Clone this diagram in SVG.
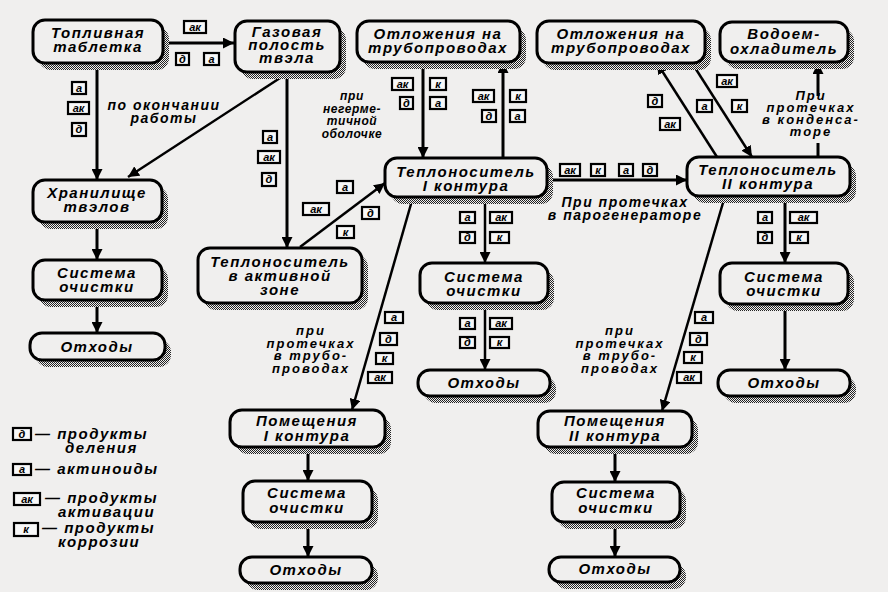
<svg xmlns="http://www.w3.org/2000/svg" width="888" height="592" viewBox="0 0 888 592">
<defs>
<pattern id="dot" width="2" height="2" patternUnits="userSpaceOnUse"><rect width="2" height="2" fill="#f0efee"/><rect width="1" height="1" fill="#222"/><rect x="1" y="1" width="1" height="1" fill="#222"/></pattern>
<marker id="ar" viewBox="0 0 10 10" refX="10" refY="5" markerWidth="11" markerHeight="11" markerUnits="userSpaceOnUse" orient="auto"><path d="M0,0 L10,5 L0,10 z" fill="#000"/></marker>
<style>
.bx{fill:#f0efee;stroke:#000;stroke-width:3}
.sh{fill:url(#dot)}
.t,.a{font-family:"Liberation Sans","DejaVu Sans",sans-serif;font-weight:bold;font-style:italic;text-anchor:middle;fill:#000}
.t{font-size:15px;letter-spacing:1.5px}
.a{font-size:14px;letter-spacing:1.5px}
.sm{font-size:12px;letter-spacing:0.6px}
.k{font-size:13px;letter-spacing:2px}
.lg{font-size:15px;letter-spacing:1.5px;text-anchor:start}
.c line{stroke:#000;stroke-width:3}
.c .d{stroke-width:2.5}
.tg rect{fill:#f8f8f8;stroke:#000;stroke-width:2.2}
.tg text{font-family:"Liberation Sans","DejaVu Sans",sans-serif;font-weight:bold;font-style:italic;font-size:11px;text-anchor:middle;fill:#000}
</style>
</defs>
<rect width="888" height="592" fill="#f0efee"/>

<g id="connectors" class="c">
<line x1="163" y1="43" x2="234" y2="43" marker-end="url(#ar)"/>
<line x1="97" y1="63" x2="97" y2="180" marker-end="url(#ar)"/>
<line class="d" x1="280" y1="78" x2="128" y2="177" marker-end="url(#ar)"/>
<line x1="287" y1="72" x2="287" y2="248" marker-end="url(#ar)"/>
<line class="d" x1="300" y1="247" x2="385" y2="183" marker-end="url(#ar)"/>
<line x1="423" y1="62" x2="423" y2="158" marker-end="url(#ar)"/>
<line x1="503" y1="158" x2="503" y2="62" marker-end="url(#ar)"/>
<line x1="547" y1="180" x2="687" y2="180" marker-end="url(#ar)"/>
<line class="d" x1="717" y1="157" x2="657" y2="63" marker-end="url(#ar)"/>
<line class="d" x1="692" y1="63" x2="752" y2="157" marker-end="url(#ar)"/>
<line x1="818" y1="157" x2="818" y2="143"/>
<line x1="818" y1="96" x2="818" y2="63" marker-end="url(#ar)"/>
<line class="d" x1="485" y1="197" x2="485" y2="263" marker-end="url(#ar)"/>
<line class="d" x1="485" y1="303" x2="485" y2="370" marker-end="url(#ar)"/>
<line class="d" x1="413" y1="197" x2="352" y2="410" marker-end="url(#ar)"/>
<line class="d" x1="725" y1="196" x2="662" y2="411" marker-end="url(#ar)"/>
<line x1="785" y1="196" x2="785" y2="263" marker-end="url(#ar)"/>
<line x1="785" y1="304" x2="785" y2="370" marker-end="url(#ar)"/>
<line x1="97" y1="222" x2="97" y2="260" marker-end="url(#ar)"/>
<line x1="97" y1="300" x2="97" y2="333" marker-end="url(#ar)"/>
<line x1="308" y1="447" x2="308" y2="481" marker-end="url(#ar)"/>
<line x1="308" y1="522" x2="308" y2="557" marker-end="url(#ar)"/>
<line x1="615" y1="447" x2="615" y2="482" marker-end="url(#ar)"/>
<line x1="615" y1="522" x2="615" y2="557" marker-end="url(#ar)"/>
</g>

<g id="tags" class="tg">
<rect x="184" y="21" width="22" height="12"/><text x="195" y="31">ак</text>
<rect x="176" y="53" width="13" height="12"/><text x="182.5" y="63">д</text>
<rect x="204" y="53" width="15" height="12"/><text x="211.5" y="63">а</text>

<rect x="72" y="82" width="14" height="12"/><text x="79" y="92">а</text>
<rect x="68" y="102" width="21" height="12"/><text x="78.5" y="112">ак</text>
<rect x="72" y="123" width="14" height="13"/><text x="79" y="133">д</text>

<rect x="263" y="131" width="14" height="12"/><text x="270" y="141">а</text>
<rect x="258" y="151" width="22" height="12"/><text x="269" y="161">ак</text>
<rect x="262" y="173" width="14" height="13"/><text x="269" y="183">д</text>

<rect x="337" y="181" width="16" height="12"/><text x="345" y="191">а</text>
<rect x="303" y="203" width="26" height="12"/><text x="316" y="213">ак</text>
<rect x="362" y="207" width="17" height="12"/><text x="370.5" y="217">д</text>
<rect x="337" y="226" width="17" height="12"/><text x="345.5" y="236">к</text>

<rect x="392" y="78" width="21" height="12"/><text x="402.5" y="88">ак</text>
<rect x="430" y="78" width="16" height="12"/><text x="438" y="88">к</text>
<rect x="400" y="97" width="13" height="12"/><text x="406.5" y="107">д</text>
<rect x="430" y="97" width="16" height="12"/><text x="438" y="107">а</text>

<rect x="473" y="90" width="21" height="12"/><text x="483.5" y="100">ак</text>
<rect x="510" y="90" width="16" height="12"/><text x="518" y="100">к</text>
<rect x="482" y="110" width="14" height="12"/><text x="489" y="120">д</text>
<rect x="510" y="110" width="15" height="12"/><text x="517.5" y="120">а</text>

<rect x="560" y="164" width="20" height="12"/><text x="570" y="174">ак</text>
<rect x="591" y="164" width="14" height="12"/><text x="598" y="174">к</text>
<rect x="619" y="164" width="14" height="12"/><text x="626" y="174">а</text>
<rect x="643" y="164" width="14" height="12"/><text x="650" y="174">д</text>

<rect x="648" y="95" width="14" height="12"/><text x="655" y="105">д</text>
<rect x="660" y="118" width="20" height="12"/><text x="670" y="128">ак</text>
<rect x="697" y="100" width="15" height="12"/><text x="704.5" y="110">а</text>
<rect x="732" y="100" width="15" height="12"/><text x="739.5" y="110">к</text>
<rect x="717" y="75" width="20" height="12"/><text x="727" y="85">ак</text>

<rect x="460" y="212" width="15" height="11"/><text x="467.5" y="221">а</text>
<rect x="490" y="212" width="22" height="11"/><text x="501" y="221">ак</text>
<rect x="460" y="232" width="15" height="11"/><text x="467.5" y="241">д</text>
<rect x="490" y="232" width="19" height="11"/><text x="499.5" y="241">к</text>

<rect x="460" y="318" width="15" height="11"/><text x="467.5" y="327">а</text>
<rect x="490" y="318" width="22" height="11"/><text x="501" y="327">ак</text>
<rect x="460" y="337" width="15" height="11"/><text x="467.5" y="346">д</text>
<rect x="490" y="337" width="19" height="11"/><text x="499.5" y="346">к</text>

<rect x="385" y="312" width="18" height="11"/><text x="394" y="321">а</text>
<rect x="380" y="333" width="17" height="12"/><text x="388.5" y="343">д</text>
<rect x="376" y="353" width="17" height="11"/><text x="384.5" y="362">к</text>
<rect x="368" y="372" width="24" height="11"/><text x="380" y="381">ак</text>

<rect x="695" y="312" width="18" height="11"/><text x="704" y="321">а</text>
<rect x="690" y="333" width="17" height="12"/><text x="698.5" y="343">д</text>
<rect x="684" y="352" width="18" height="11"/><text x="693" y="361">к</text>
<rect x="677" y="372" width="24" height="11"/><text x="689" y="381">ак</text>

<rect x="758" y="212" width="14" height="11"/><text x="765" y="221">а</text>
<rect x="790" y="212" width="27" height="11"/><text x="803.5" y="221">ак</text>
<rect x="758" y="232" width="14" height="11"/><text x="765" y="241">д</text>
<rect x="790" y="232" width="18" height="11"/><text x="799" y="241">к</text>
</g>

<g id="annotations">
<text class="a"><tspan x="164" y="110">по окончании</tspan><tspan x="164" y="123">работы</tspan></text>
<text class="a sm"><tspan x="352" y="100">при</tspan><tspan x="352" y="112.5">негерме-</tspan><tspan x="352" y="125">тичной</tspan><tspan x="352" y="137.5">оболочке</tspan></text>
<text class="a k"><tspan x="811" y="100">При</tspan><tspan x="811" y="112">протечках</tspan><tspan x="811" y="124">в конденса-</tspan><tspan x="811" y="136">торе</tspan></text>
<text class="a"><tspan x="625" y="207">При протечках</tspan><tspan x="625" y="220">в парогенераторе</tspan></text>
<text class="a k"><tspan x="311" y="335">при</tspan><tspan x="311" y="347.5">протечках</tspan><tspan x="311" y="360">в трубо-</tspan><tspan x="311" y="372.5">проводах</tspan></text>
<text class="a k"><tspan x="620" y="335">при</tspan><tspan x="620" y="347.5">протечках</tspan><tspan x="620" y="360">в трубо-</tspan><tspan x="620" y="372.5">проводах</tspan></text>
</g>

<g id="legend">
<g class="tg"><rect x="13" y="428" width="18" height="12"/><text x="22" y="438">д</text>
<rect x="13" y="464" width="18" height="11"/><text x="22" y="473">а</text>
<rect x="14" y="493" width="26" height="12"/><text x="27" y="503">ак</text>
<rect x="14" y="523" width="24" height="13"/><text x="26" y="533">к</text></g>
<text class="a lg"><tspan x="35" y="439">— продукты</tspan><tspan x="65" y="453">деления</tspan></text>
<text class="a lg" x="35" y="474">— актиноиды</text>
<text class="a lg"><tspan x="45" y="503">— продукты</tspan><tspan x="58" y="517">активации</tspan></text>
<text class="a lg"><tspan x="42" y="533">— продукты</tspan><tspan x="58" y="547">коррозии</tspan></text>
</g>

<g id="n1"><rect class="sh" x="39" y="27" width="130" height="43" rx="12"/><rect class="bx" x="33" y="20" width="130" height="43" rx="12"/><text class="t"><tspan x="98" y="38">Топливная</tspan><tspan x="98" y="52">таблетка</tspan></text></g>
<g id="n2"><rect class="sh" x="241" y="28" width="105" height="51" rx="12"/><rect class="bx" x="235" y="21" width="105" height="51" rx="12"/><text class="t"><tspan x="287" y="37">Газовая</tspan><tspan x="287" y="50">полость</tspan><tspan x="287" y="63">твэла</tspan></text></g>
<g id="n3"><rect class="sh" x="363" y="28" width="163" height="41" rx="12"/><rect class="bx" x="357" y="21" width="163" height="41" rx="12"/><text class="t"><tspan x="438" y="39">Отложения на</tspan><tspan x="438" y="53">трубопроводах</tspan></text></g>
<g id="n4"><rect class="sh" x="543" y="28" width="168" height="42" rx="12"/><rect class="bx" x="537" y="21" width="168" height="42" rx="12"/><text class="t"><tspan x="621" y="39">Отложения на</tspan><tspan x="621" y="53">трубопроводах</tspan></text></g>
<g id="n5"><rect class="sh" x="726" y="29" width="128" height="40" rx="12"/><rect class="bx" x="720" y="22" width="128" height="40" rx="12"/><text class="t"><tspan x="784" y="39">Водоем-</tspan><tspan x="784" y="54">охладитель</tspan></text></g>
<g id="n6"><rect class="sh" x="39" y="187" width="129" height="42" rx="12"/><rect class="bx" x="33" y="180" width="129" height="42" rx="12"/><text class="t"><tspan x="97" y="198">Хранилище</tspan><tspan x="97" y="212">твэлов</tspan></text></g>
<g id="n7"><rect class="sh" x="39" y="267" width="129" height="40" rx="12"/><rect class="bx" x="33" y="260" width="129" height="40" rx="12"/><text class="t"><tspan x="97" y="278">Система</tspan><tspan x="97" y="292">очистки</tspan></text></g>
<g id="n8"><rect class="sh" x="36" y="340" width="135" height="27" rx="12"/><rect class="bx" x="30" y="333" width="135" height="27" rx="12"/><text class="t" x="97" y="352">Отходы</text></g>
<g id="n9"><rect class="sh" x="204" y="255" width="164" height="55" rx="12"/><rect class="bx" x="198" y="248" width="164" height="55" rx="12"/><text class="t"><tspan x="280" y="267">Теплоноситель</tspan><tspan x="280" y="281">в активной</tspan><tspan x="280" y="295">зоне</tspan></text></g>
<g id="n10"><rect class="sh" x="391" y="165" width="162" height="39" rx="12"/><rect class="bx" x="385" y="158" width="162" height="39" rx="12"/><text class="t"><tspan x="466" y="177">Теплоноситель</tspan><tspan x="466" y="191">I контура</tspan></text></g>
<g id="n11"><rect class="sh" x="693" y="164" width="163" height="39" rx="12"/><rect class="bx" x="687" y="157" width="163" height="39" rx="12"/><text class="t"><tspan x="768" y="175">Теплоноситель</tspan><tspan x="768" y="189">II контура</tspan></text></g>
<g id="n12"><rect class="sh" x="426" y="270" width="128" height="40" rx="12"/><rect class="bx" x="420" y="263" width="128" height="40" rx="12"/><text class="t"><tspan x="484" y="282">Система</tspan><tspan x="484" y="296">очистки</tspan></text></g>
<g id="n13"><rect class="sh" x="424" y="377" width="132" height="26" rx="12"/><rect class="bx" x="418" y="370" width="132" height="26" rx="12"/><text class="t" x="484" y="388">Отходы</text></g>
<g id="n14"><rect class="sh" x="726" y="270" width="128" height="41" rx="12"/><rect class="bx" x="720" y="263" width="128" height="41" rx="12"/><text class="t"><tspan x="784" y="282">Система</tspan><tspan x="784" y="296">очистки</tspan></text></g>
<g id="n15"><rect class="sh" x="724" y="377" width="132" height="26" rx="12"/><rect class="bx" x="718" y="370" width="132" height="26" rx="12"/><text class="t" x="784" y="388">Отходы</text></g>
<g id="n16"><rect class="sh" x="236" y="417" width="155" height="37" rx="12"/><rect class="bx" x="230" y="410" width="155" height="37" rx="12"/><text class="t"><tspan x="307" y="426">Помещения</tspan><tspan x="307" y="441">I контура</tspan></text></g>
<g id="n17"><rect class="sh" x="249" y="488" width="129" height="41" rx="12"/><rect class="bx" x="243" y="481" width="129" height="41" rx="12"/><text class="t"><tspan x="307" y="498">Система</tspan><tspan x="307" y="513">очистки</tspan></text></g>
<g id="n18"><rect class="sh" x="246" y="564" width="132" height="26" rx="12"/><rect class="bx" x="240" y="557" width="132" height="26" rx="12"/><text class="t" x="306" y="575">Отходы</text></g>
<g id="n19"><rect class="sh" x="544" y="418" width="154" height="36" rx="12"/><rect class="bx" x="538" y="411" width="154" height="36" rx="12"/><text class="t"><tspan x="615" y="426">Помещения</tspan><tspan x="615" y="441">II контура</tspan></text></g>
<g id="n20"><rect class="sh" x="558" y="489" width="128" height="40" rx="12"/><rect class="bx" x="552" y="482" width="128" height="40" rx="12"/><text class="t"><tspan x="616" y="498">Система</tspan><tspan x="616" y="513">очистки</tspan></text></g>
<g id="n21"><rect class="sh" x="555" y="564" width="131" height="25" rx="12"/><rect class="bx" x="549" y="557" width="131" height="25" rx="12"/><text class="t" x="615" y="574">Отходы</text></g>
</svg>
